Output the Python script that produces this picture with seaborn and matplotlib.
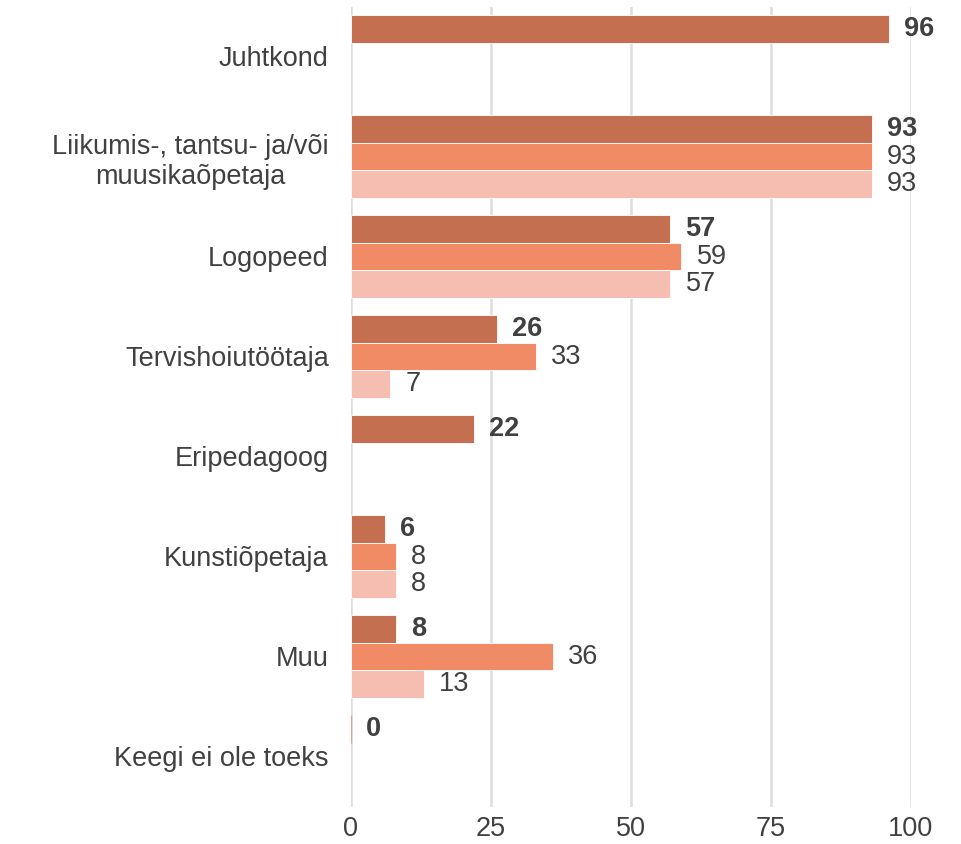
import numpy as np
import pandas as pd
import matplotlib
matplotlib.use("Agg")
import matplotlib.pyplot as plt
import seaborn as sns

categories = ["Juhtkond", "Liikumis-, tantsu- ja/või\nmuusikaõpetaja", "Logopeed",
              "Tervishoiutöötaja", "Eripedagoog", "Kunstiõpetaja", "Muu", "Keegi ei ole toeks"]
series_names = ["A", "B", "C"]
s1 = [96, 93, 57, 26, 22, 6, 8, 0]
s2 = [np.nan, 93, 59, 33, np.nan, 8, 36, np.nan]
s3 = [np.nan, 93, 57, 7, np.nan, 8, 13, np.nan]
colors = ["#C47050", "#F08B66", "#F5BEB0"]
xticks = [0, 25, 50, 75, 100]

rows = []
for name, vals in zip(series_names, [s1, s2, s3]):
    for c, v in zip(categories, vals):
        rows.append({"cat": c, "series": name, "value": v})
df = pd.DataFrame(rows)

sns.set_theme(style="white")
plt.rcParams["font.family"] = ["Liberation Sans", "DejaVu Sans"]

fig = plt.figure(figsize=(9.61, 8.44), dpi=100)
ax = fig.add_axes([351/961, 1-806.5/844, 560/961, 800/844])

sns.barplot(data=df, y="cat", x="value", hue="series", order=categories,
            hue_order=series_names, palette=colors, width=0.83, orient="h",
            ax=ax, legend=False, edgecolor="white", linewidth=0.6, saturation=1)

text_color = "#404040"
for i, cont in enumerate(ax.containers):
    patches = [p for p in cont.patches if p is not None]
    for p in patches:
        w = p.get_width()
        if w == 0:
            p.set_edgecolor("#E8A090")
            p.set_linewidth(1.0)
        yc = p.get_y() + p.get_height() / 2
        ax.annotate(f"{w:g}", xy=(w, yc), xytext=(11, 0), textcoords="offset points",
                    ha="left", va="center", fontsize=19.5, color=text_color,
                    fontweight="bold" if i == 0 else "normal", annotation_clip=False)

ax.set_xlim(0, 100)
ax.set_ylim(7.5, -0.5)
ax.set_xticks(xticks)
ax.set_xticklabels([str(t) for t in xticks])
ax.xaxis.grid(True, color="#DDDDDD", linewidth=1.8)
ax.yaxis.grid(False)
ax.set_axisbelow(True)
for s in ax.spines.values():
    s.set_visible(False)
ax.tick_params(axis="both", length=0, labelsize=19.5, colors=text_color)
ax.tick_params(axis="y", pad=16)
ax.tick_params(axis="x", pad=7)
for lab in ax.get_yticklabels():
    lab.set_multialignment("center")
ax.set_xlabel("")
ax.set_ylabel("")

fig.savefig("out.png", dpi=100)
